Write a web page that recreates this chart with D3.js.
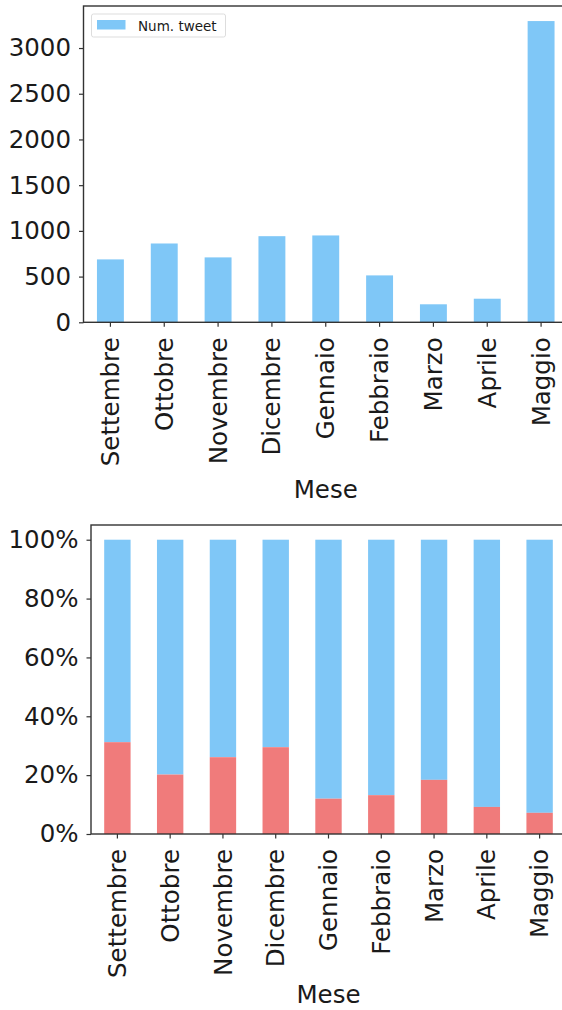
<!DOCTYPE html>
<html><head><meta charset="utf-8">
<script src="https://cdn.jsdelivr.net/npm/d3@7"></script>
<style>body{margin:0;background:#fff;} svg{display:block;} svg text{font-family:"DejaVu Sans",sans-serif;}</style>
</head><body>
<svg id="c" width="562" height="1010"></svg>
<script>
const months = ["Settembre","Ottobre","Novembre","Dicembre","Gennaio","Febbraio","Marzo","Aprile","Maggio"];
const tweets = [688, 862, 710, 942, 950, 513, 197, 258, 3295];
const redShare = [0.312, 0.202, 0.261, 0.295, 0.120, 0.132, 0.184, 0.092, 0.072];
const topTicks = [0, 500, 1000, 1500, 2000, 2500, 3000];
const pctTicks = [0, 0.2, 0.4, 0.6, 0.8, 1.0];
const legendLabel = "Num. tweet";
const xTitle = "Mese";

const blue = "#7fc7f7", red = "#f07b7b", spine = "#333";
const FONT = '"DejaVu Sans", sans-serif';
const svg = d3.select("#c");

function frame(g, x0, x1, y0, y1) {
  g.append("rect").attr("x", x0).attr("y", y0).attr("width", x1 - x0).attr("height", y1 - y0)
    .attr("fill", "none").attr("stroke", spine).attr("stroke-width", 1.4);
}
function styleAxis(ax) {
  ax.attr("font-family", FONT);
  ax.select(".domain").remove();
  ax.selectAll(".tick line").attr("stroke", spine).attr("stroke-width", 1.2);
  ax.selectAll("text").attr("fill", "#1a1a1a").style("font-family", FONT).style("font-size", "24.5px");
}

// ---- Top chart ----
{
  const L = 83.5, R = 568, T = 6, B = 322.3;
  const x = d3.scaleBand().domain(months).range([L, R]).paddingInner(0.5).paddingOuter(0.25);
  const y = d3.scaleLinear().domain([0, d3.max(tweets) * 1.05]).range([B, T]);
  const g = svg.append("g");
  g.selectAll("rect.bar").data(months).join("rect").attr("class", "bar")
    .attr("x", d => x(d)).attr("width", x.bandwidth())
    .attr("y", (d, i) => y(tweets[i])).attr("height", (d, i) => B - y(tweets[i]))
    .attr("fill", blue);
  const ya = g.append("g").attr("transform", `translate(${L},0)`)
    .call(d3.axisLeft(y).tickValues(topTicks).tickSize(4.5).tickPadding(8).tickFormat(d3.format("d")));
  styleAxis(ya);
  const xa = g.append("g").attr("transform", `translate(0,${B})`)
    .call(d3.axisBottom(x).tickSize(4.5).tickSizeOuter(0));
  styleAxis(xa);
  xa.selectAll("text").attr("transform", "rotate(-90)").attr("text-anchor", "end")
    .attr("x", -15).attr("y", 0).attr("dy", "0.35em");
  g.append("text").attr("x", (L + R) / 2).attr("y", 498).attr("text-anchor", "middle")
    .style("font-size", "24.5px").attr("fill", "#1a1a1a").text(xTitle);
  frame(g, L, R, T, B);
  // legend
  const lg = g.append("g");
  lg.append("rect").attr("x", 91.5).attr("y", 14).attr("width", 134).attr("height", 23)
    .attr("rx", 2).attr("fill", "#fff").attr("fill-opacity", 0.8).attr("stroke", "#ddd");
  lg.append("rect").attr("x", 97).attr("y", 20).attr("width", 28.5).attr("height", 9.5).attr("fill", blue);
  lg.append("text").attr("x", 138).attr("y", 30.5).style("font-size", "13.5px").attr("fill", "#1a1a1a").text(legendLabel);
}

// ---- Bottom chart ----
{
  const L = 91, R = 566, T = 525, B = 834;
  const x = d3.scaleBand().domain(months).range([L, R]).paddingInner(0.5).paddingOuter(0.25);
  const y = d3.scaleLinear().domain([0, 1.05]).range([B, T]);
  const g = svg.append("g");
  g.selectAll("rect.blue").data(months).join("rect").attr("class", "blue")
    .attr("x", d => x(d)).attr("width", x.bandwidth())
    .attr("y", y(1)).attr("height", (d, i) => y(redShare[i]) - y(1))
    .attr("fill", blue);
  g.selectAll("rect.red").data(months).join("rect").attr("class", "red")
    .attr("x", d => x(d)).attr("width", x.bandwidth())
    .attr("y", (d, i) => y(redShare[i])).attr("height", (d, i) => B - y(redShare[i]))
    .attr("fill", red);
  const ya = g.append("g").attr("transform", `translate(${L},0)`)
    .call(d3.axisLeft(y).tickValues(pctTicks).tickSize(4.5).tickPadding(8).tickFormat(d3.format(".0%")));
  styleAxis(ya);
  const xa = g.append("g").attr("transform", `translate(0,${B})`)
    .call(d3.axisBottom(x).tickSize(4.5).tickSizeOuter(0));
  styleAxis(xa);
  xa.selectAll("text").attr("transform", "rotate(-90)").attr("text-anchor", "end")
    .attr("x", -15).attr("y", 0).attr("dy", "0.35em");
  g.append("text").attr("x", (L + R) / 2).attr("y", 1003).attr("text-anchor", "middle")
    .style("font-size", "24.5px").attr("fill", "#1a1a1a").text(xTitle);
  frame(g, L, R, T, B);
}
</script>
</body></html>
